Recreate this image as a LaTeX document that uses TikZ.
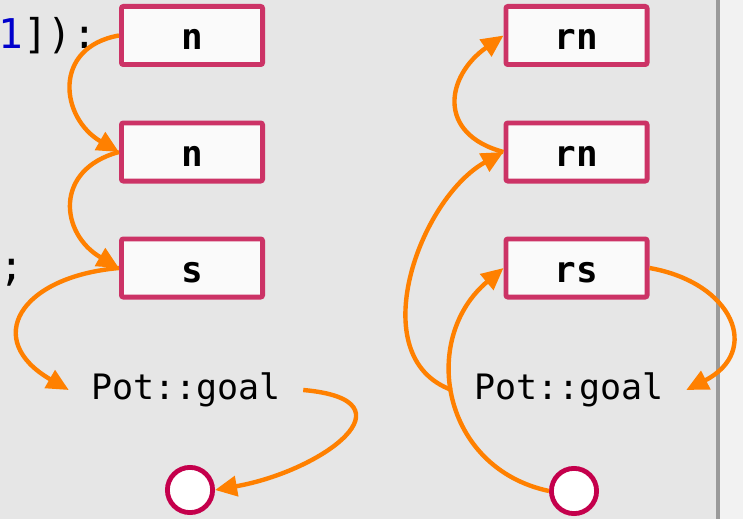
\documentclass[tikz,border=0pt]{standalone}
\usepackage{xcolor}
\usepackage{fontspec}
\setmonofont{DejaVu Sans Mono}
\usepackage{tikz}
\usetikzlibrary{arrows.meta}

\definecolor{panelgrey}{HTML}{E6E6E6}
\definecolor{edgegrey}{HTML}{F2F2F2}
\definecolor{rulegrey}{HTML}{9A9A9A}
\definecolor{boxpink}{HTML}{CC3366}
\definecolor{boxwhite}{HTML}{FAFAFA}
\definecolor{holered}{HTML}{C4004C}
\definecolor{flowor}{HTML}{FF8000}
\definecolor{numblue}{HTML}{0000CC}

\begin{document}
\begin{tikzpicture}[x=0.5pt, y=0.5pt,
    box/.style={draw=boxpink, fill=boxwhite, line width=2.4pt, rounded corners=1pt,
      minimum width=70.6pt, minimum height=29.1pt, inner sep=0pt,
      text height=14.5pt, text depth=0pt,
      font=\ttfamily\bfseries\fontsize{18}{20}\selectfont},
    goaltext/.style={inner xsep=11pt, inner ysep=2pt,
      font=\ttfamily\fontsize{17.5}{20}\selectfont},
    hole/.style={circle, draw=holered, fill=white, line width=2.4pt,
      minimum size=22.6pt, inner sep=0pt},
    code/.style={anchor=base west, inner sep=0pt,
      font=\ttfamily\fontsize{20.5}{24}\selectfont},
    flow/.style={draw=flowor, line width=2.2pt, -{Triangle[length=11pt,width=10pt]}}]

             \useasboundingbox (0,0) rectangle (743,-519);
             \fill[panelgrey] (0,0) rectangle (716,-519);
             \fill[rulegrey] (716,0) rectangle (720,-519);
             \fill[edgegrey] (720,0) rectangle (743,-519);

             \node[code] (head) at (-2,-49) {\textcolor{numblue}{1}]):};
             \node[code] (tail) at (-1,-280) {;};

             \node[box] (n1) at (192,-35.5) {n};
             \node[box] (n2) at (192,-152) {n};
             \node[box] (s) at (192,-268) {s};
             \node[goaltext] (goal) at (186,-390) {Pot::goal};
             \node[hole] (done) at (190,-490) {};

             \node[box] (rn1) at (576.5,-35.5) {rn};
             \node[box] (rn2) at (576.5,-152) {rn};
             \node[box] (rs) at (576.5,-268) {rs};
             \node[goaltext] (rgoal) at (569,-390) {Pot::goal};
             \node[hole] (rdone) at (574,-491) {};

             \draw[flow] (n1.west) .. controls +(190:68) and +(150:68) .. (n2.west);
             \draw[flow] (n2.west) .. controls +(195:68) and +(150:68) .. (s.west);
             \draw[flow] (s.west) .. controls +(185:100) and +(150:100) .. (goal.west);
             \draw[flow] (goal.east) .. controls +(355:115) and +(10:110) .. (done.east);

             \draw[flow] (rn2.west) .. controls +(165:70) and +(215:70) .. (rn1.west);
             \draw[flow] (rgoal.west) .. controls +(160:96) and +(209:96) .. (rn2.west);
             \draw[flow] (rdone.west) .. controls +(168:110) and +(220:110) .. (rs.west);
             \draw[flow] (rs.east) .. controls +(350:85) and +(27:85) .. (rgoal.east);

\end{tikzpicture}
\end{document}
